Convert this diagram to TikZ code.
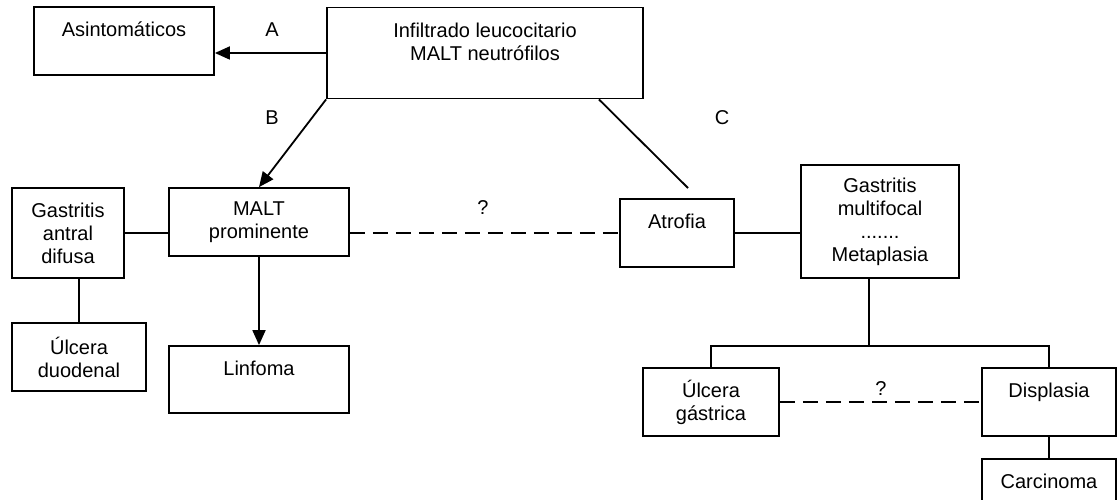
\documentclass[tikz,border=0pt]{standalone}
\usepackage{fontspec}
\setmainfont{Liberation Sans}
\usetikzlibrary{arrows.meta}
\begin{document}
\begin{tikzpicture}[x=1pt,y=-1pt,
    caja/.style={draw,line width=1.8pt,inner sep=0pt,align=center,
      font=\fontsize{20}{23}\selectfont},
    etiqueta/.style={inner sep=0pt,font=\fontsize{20}{23}\selectfont},
    flecha/.style={-{Triangle[length=15pt,width=13pt]}},
    discont/.style={dash pattern=on 15pt off 8pt}]
  \useasboundingbox (0,0) rectangle (1118,500);
  \node[caja,minimum width=180pt,minimum height=68pt] (asint) at (124,41) {Asintomáticos\\\mbox{}};
  \node[caja,minimum width=316pt,minimum height=91pt] (infil) at (485,53) {Infiltrado leucocitario\\MALT neutrófilos\\\mbox{}};
  \node[caja,minimum width=112pt,minimum height=90pt] (gastA) at (68,233) {Gastritis\\antral\\difusa};
  \node[caja,minimum width=180pt,minimum height=68pt] (malt) at (259,222) {MALT\\prominente};
  \node[caja,minimum width=134pt,minimum height=68pt] (ulcD) at (79,357) {Úlcera\\duodenal};
  \node[caja,minimum width=180pt,minimum height=67pt] (linf) at (259,379.5) {Linfoma\\\mbox{}};
  \node[caja,minimum width=114pt,minimum height=68pt] (atrof) at (677,233) {Atrofia\\\mbox{}};
  \node[caja,minimum width=158pt,minimum height=113pt] (multif) at (880,221.5) {Gastritis\\multifocal\\.......\\Metaplasia};
  \node[caja,minimum width=136pt,minimum height=68pt] (ulcG) at (711,402) {Úlcera\\gástrica};
  \node[caja,minimum width=134pt,minimum height=68pt] (displ) at (1049,402) {Displasia\\\mbox{}};
  \node[caja,minimum width=134pt,minimum height=68pt] (carc) at (1049,493) {Carcinoma\\\mbox{}};
  % letras de las ramas
  \node[etiqueta] (labA) at (272,30) {A};
  \node[etiqueta] (labB) at (272,118) {B};
  \node[etiqueta] (labC) at (722,118) {C};
  \node[etiqueta] (preg1) at (483,208) {?};
  \node[etiqueta] (preg2) at (881,389) {?};
  \coordinate (finC) at (688,188);
  \coordinate (rama) at (869,346);
  \begin{scope}[line width=1.8pt]
    \draw[flecha] (infil.west) -- (infil.west -| asint.east);
    \draw[flecha] (infil.south west) -- (malt.north);
    \draw ([xshift=-45pt]infil.south east) -- (finC);
    \draw (gastA.east) -- (gastA.east -| malt.west);
    \draw (ulcD.north |- gastA.south) -- (ulcD.north);
    \draw[flecha] (malt.south) -- (linf.north);
    \draw[discont] (malt.east |- atrof.west) -- (atrof.west);
    \draw (atrof.east) -- (atrof.east -| multif.west);
    \draw (rama |- multif.south) -- (rama);
    \draw (ulcG.north) |- (rama) -| (displ.north);
    \draw[discont] (ulcG.east) -- (ulcG.east -| displ.west);
    \draw (displ.south) -- (carc.north);
  \end{scope}
\end{tikzpicture}
\end{document}
